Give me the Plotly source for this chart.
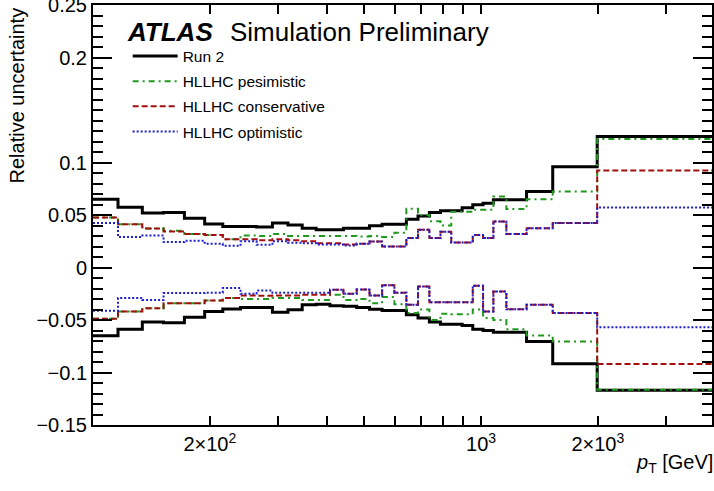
import math
import plotly.graph_objects as go

# pT bin edges [GeV]
EDGES = [100, 116, 134, 152, 172, 194, 216, 240, 264, 290, 318, 346, 376, 408, 442,
         478, 516, 556, 598, 642, 688, 736, 786, 838, 894, 952, 1012, 1076, 1162,
         1310, 1530, 1992, 3937]

RUN2_UP = [0.065, 0.0575, 0.052, 0.0525, 0.047, 0.0415, 0.039, 0.039, 0.0385, 0.0425,
           0.0405, 0.0375, 0.036, 0.036, 0.0375, 0.0375, 0.0397, 0.0413, 0.0413, 0.046,
           0.049, 0.0524, 0.054, 0.054, 0.057, 0.0597, 0.0613, 0.0645, 0.0645, 0.0724,
           0.096, 0.1248]
RUN2_LO = [-0.065, -0.0587, -0.052, -0.0525, -0.0473, -0.042, -0.0396, -0.038, -0.038, -0.0425,
           -0.0403, -0.0355, -0.035, -0.0365, -0.037, -0.038, -0.0397, -0.041, -0.041, -0.045,
           -0.048, -0.052, -0.054, -0.054, -0.0552, -0.0587, -0.06, -0.0616, -0.0616, -0.0705,
           -0.0917, -0.117]

PESS_UP = [0.0476, 0.0413, 0.0371, 0.035, 0.032, 0.031, 0.027, 0.0305, 0.030, 0.032,
           0.030, 0.030, 0.030, 0.030, 0.030, 0.0296, 0.030, 0.029, 0.033, 0.056,
           0.050, 0.044, 0.040, 0.053, 0.053, 0.055, 0.055, 0.0676, 0.0556, 0.065,
           0.0724, 0.1223]
PESS_LO = [-0.0489, -0.0419, -0.0387, -0.034, -0.034, -0.0314, -0.029, -0.030, -0.030, -0.029,
           -0.029, -0.031, -0.031, -0.026, -0.031, -0.030, -0.034, -0.028, -0.035, -0.0434,
           -0.040, -0.050, -0.044, -0.0445, -0.0445, -0.040, -0.048, -0.050, -0.0587, -0.0647,
           -0.0705, -0.1165]

CONS_UP = [0.0476, 0.0413, 0.0371, 0.0343, 0.0318, 0.031, 0.027, 0.027, 0.026, 0.027,
           0.026, 0.025, 0.023, 0.023, 0.022, 0.0226, 0.0248, 0.02, 0.02, 0.028,
           0.036, 0.028, 0.034, 0.0238, 0.0238, 0.031, 0.028, 0.0438, 0.0318, 0.0375,
           0.0423, 0.0924]
CONS_LO = [-0.0489, -0.0419, -0.0387, -0.034, -0.034, -0.0314, -0.029, -0.0267, -0.027, -0.0267,
           -0.0267, -0.026, -0.026, -0.0212, -0.025, -0.021, -0.0267, -0.017, -0.024, -0.0355,
           -0.018, -0.033, -0.033, -0.033, -0.033, -0.0174, -0.042, -0.0228, -0.0397, -0.0355,
           -0.0434, -0.092]

OPT_UP = [0.0423, 0.029, 0.0305, 0.0242, 0.0254, 0.0226, 0.0207, 0.025, 0.0216, 0.025,
          0.0235, 0.023, 0.022, 0.022, 0.021, 0.0226, 0.0248, 0.02, 0.02, 0.028,
          0.036, 0.028, 0.034, 0.0238, 0.0238, 0.031, 0.028, 0.0438, 0.0318, 0.0375,
          0.0423, 0.0571]
OPT_LO = [-0.0412, -0.029, -0.031, -0.0244, -0.0244, -0.024, -0.0196, -0.025, -0.022, -0.024,
          -0.024, -0.024, -0.024, -0.0212, -0.025, -0.021, -0.0267, -0.017, -0.024, -0.0355,
          -0.018, -0.033, -0.033, -0.033, -0.033, -0.0174, -0.042, -0.0228, -0.0397, -0.0355,
          -0.0434, -0.0568]

NAMES = ["Run 2", "HLLHC pesimistic", "HLLHC conservative", "HLLHC optimistic"]

X_TICKS = [200, 1000, 2000]
X_LABELS = ["2×10<sup>2</sup>", "10<sup>3</sup>", "2×10<sup>3</sup>"]
X_MINOR = [300, 400, 500, 600, 700, 800, 900, 3000]
Y_TICKS = [-0.15, -0.1, -0.05, 0, 0.05, 0.1, 0.2, 0.25]
Y_LABELS = ["\u22120.15", "\u22120.1", "\u22120.05", "0", "0.05", "0.1", "0.2", "0.25"]

STYLES = [
    dict(color="black", width=3, dash="solid"),
    dict(color="#1f9a1f", width=2, dash="6px,4px,2px,4px"),
    dict(color="#a30f0f", width=2, dash="6px,3px"),
    dict(color="#1c1cd2", width=2, dash="2px,2px"),
]

fig = go.Figure()
for name, up, lo, st in zip(NAMES, [RUN2_UP, PESS_UP, CONS_UP, OPT_UP],
                            [RUN2_LO, PESS_LO, CONS_LO, OPT_LO], STYLES):
    for k, vals in enumerate((up, lo)):
        fig.add_trace(go.Scatter(
            x=EDGES, y=list(vals) + [vals[-1]], mode="lines",
            line=dict(shape="hv", **st), name=name, legendgroup=name,
            showlegend=(k == 0), hoverinfo="skip"))

FONT = "Liberation Sans, Arial, Helvetica, sans-serif"
axis_common = dict(ticks="inside", tickwidth=1.5, tickcolor="black", showline=True,
                   linewidth=2, linecolor="black", mirror="allticks", showgrid=False,
                   zeroline=False, ticklabeloverflow="allow", automargin=False,
                   tickfont=dict(size=20, family=FONT, color="black"))

fig.update_layout(
    width=714, height=491,
    margin=dict(l=93, r=2, t=5, b=66),
    paper_bgcolor="white", plot_bgcolor="white",
    font=dict(family=FONT, color="black", size=20),
    showlegend=True,
    legend=dict(x=0.056, y=0.918, xanchor="left", yanchor="top",
                bgcolor="rgba(0,0,0,0)", font=dict(size=15.5, family=FONT),
                tracegroupgap=2, itemwidth=45),
    xaxis=dict(type="log", range=[2, math.log10(3937)], tickmode="array",
               tickvals=X_TICKS, ticktext=X_LABELS, ticklen=9,
               minor=dict(tickmode="array", tickvals=X_MINOR, ticks="inside",
                          ticklen=9, tickwidth=1.5, tickcolor="black", showgrid=False),
               **axis_common),
    yaxis=dict(range=[-0.15, 0.25], tickmode="array", tickvals=Y_TICKS,
               ticktext=Y_LABELS, ticklen=19,
               minor=dict(dtick=0.01, tick0=0, ticks="inside", ticklen=10,
                          tickwidth=1.5, tickcolor="black", showgrid=False),
               **axis_common),
    annotations=[
        dict(text="<b><i>ATLAS</i></b>", xref="paper", yref="paper", x=0.0512, y=0.936,
             xanchor="left", yanchor="middle", showarrow=False,
             font=dict(size=26, family=FONT, color="black")),
        dict(text="Simulation Preliminary", xref="paper", yref="paper", x=0.6436, y=0.936,
             xanchor="right", yanchor="middle", showarrow=False,
             font=dict(size=26, family=FONT, color="black")),
        dict(text="Relative uncertainty", xref="paper", yref="paper", x=-0.122, y=1.0,
             xanchor="center", yanchor="top", textangle=-90, showarrow=False,
             font=dict(size=20, family=FONT, color="black")),
        dict(text="<i>p</i><sub>T</sub> [GeV]", xref="paper", yref="paper", x=1.005, y=-0.058,
             xanchor="right", yanchor="top", showarrow=False,
             font=dict(size=20, family=FONT, color="black")),
    ],
)

fig.write_html("out.html", config={"displayModeBar": False},
               post_script="document.body.style.margin='0px';")
